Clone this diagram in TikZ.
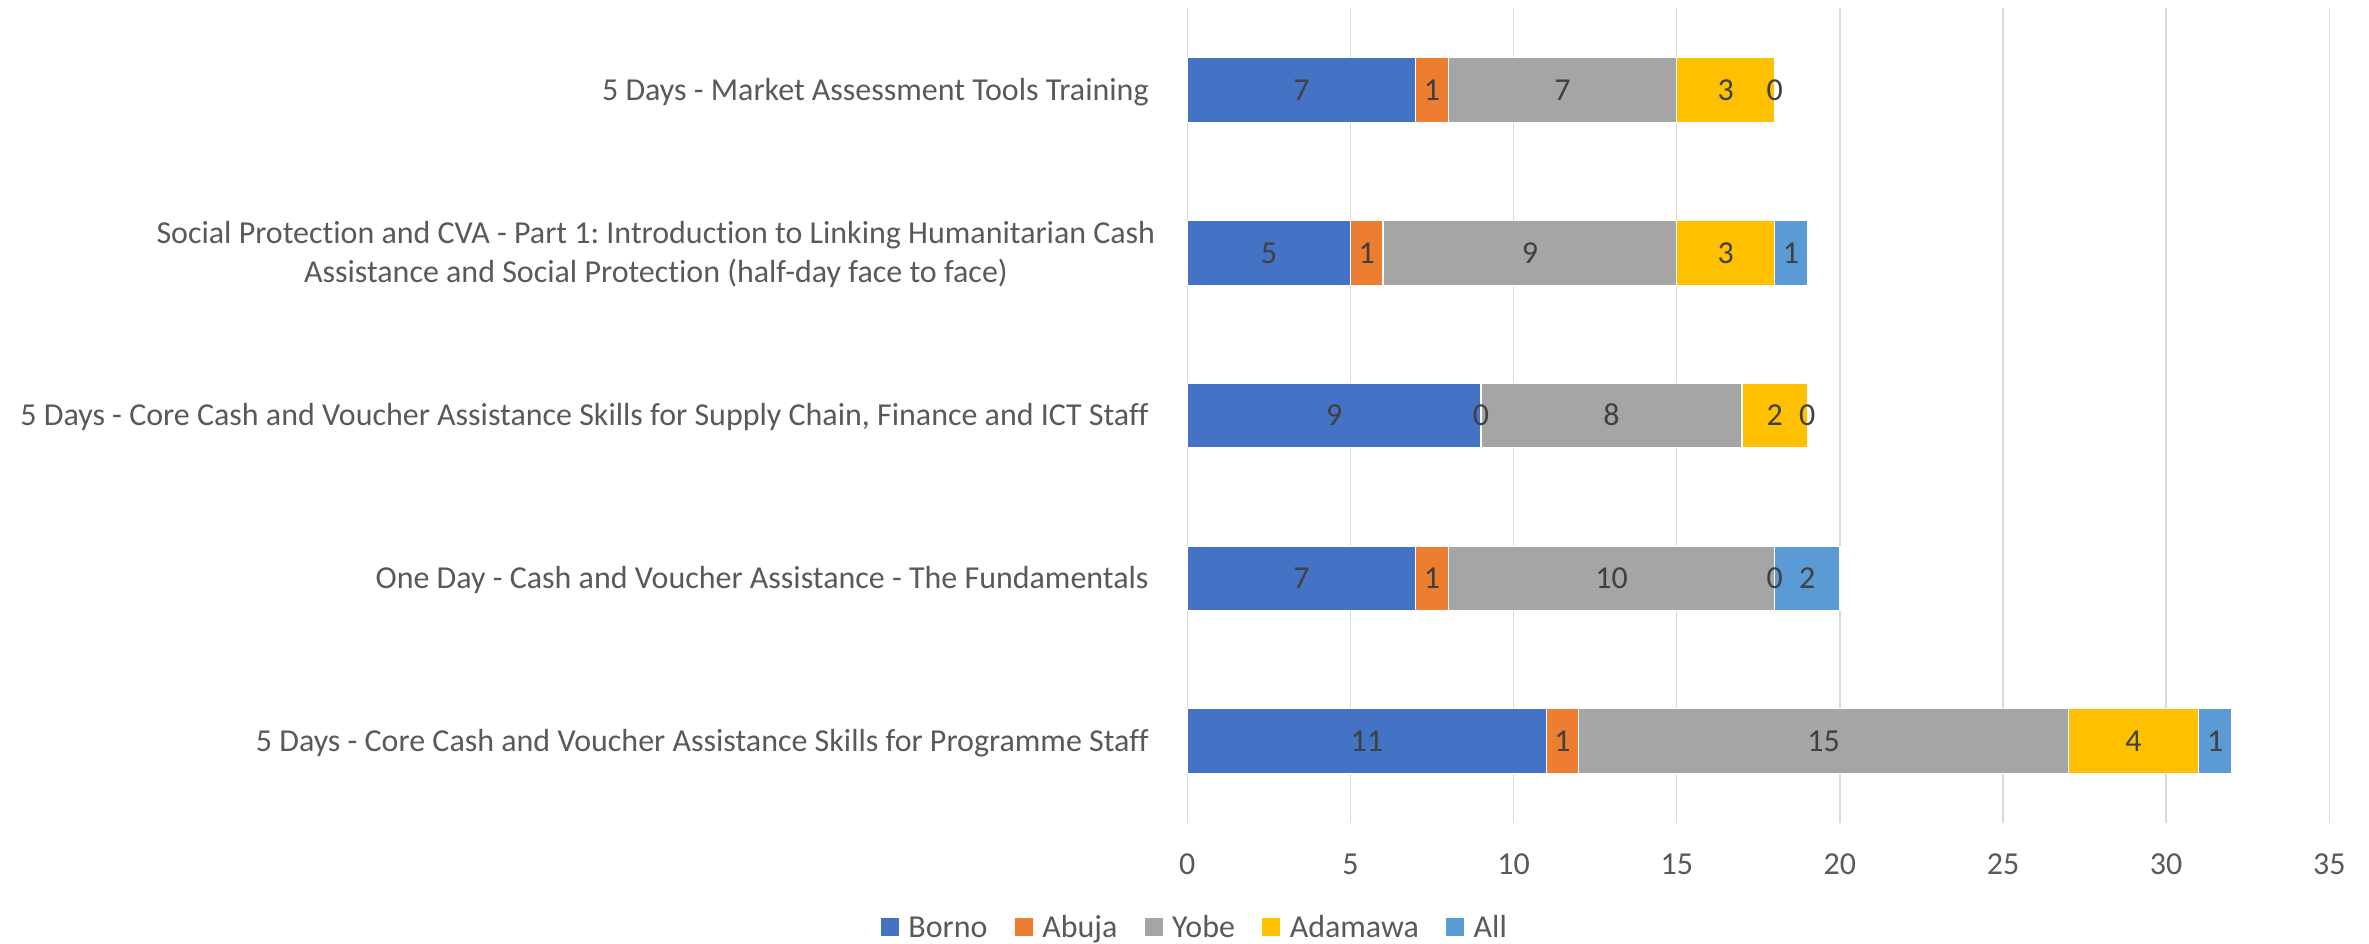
\documentclass[tikz,border=0pt]{standalone}
\usepackage{fontspec}
\setmainfont{Carlito}[Ligatures=NoCommon]
\usepackage{tikz}
\usetikzlibrary{positioning}
\frenchspacing

\definecolor{borno}{HTML}{4472C4}
\definecolor{abuja}{HTML}{ED7D31}
\definecolor{yobe}{HTML}{A5A5A5}
\definecolor{adamawa}{HTML}{FFC000}
\definecolor{allsites}{HTML}{5B9BD5}
\definecolor{labelgray}{HTML}{595959}
\definecolor{valuegray}{HTML}{404040}
\definecolor{gridgray}{HTML}{D9D9D9}
\newcommand{\chartfont}{\fontsize{9.1}{11.1}\selectfont}

\begin{document}
\begin{tikzpicture}[catlabel/.style={anchor=east, inner sep=0, align=center, text=labelgray, font=\chartfont, text height=5.86pt, text depth=0pt},
    valuelabel/.style={inner sep=0, text=valuegray, font=\chartfont, text height=5.8pt, text depth=0pt},
    ticklabel/.style={inner sep=0, text=labelgray, font=\chartfont, text height=5.8pt, text depth=0pt},
    segment/.style={draw=white, line width=0.35pt},
    gridline/.style={draw=gridgray, line width=0.4pt},
    legbox/.style={rectangle, inner sep=0, minimum size=0.18cm},
    legtext/.style={inner sep=0, text=labelgray, font=\chartfont, text height=5.86pt, text depth=0pt}]
    \useasboundingbox (0,0) rectangle (23.69,9.43);

    % categories
    \node[catlabel] (cat1) at (11.493,8.53) {5 Days - Market Assessment Tools Training};
    \node[catlabel, text height=16.96pt] (cat2) at (11.56,6.90) {Social Protection and CVA - Part 1: Introduction to Linking Humanitarian Cash\\Assistance and Social Protection (half-day face to face)};
    \node[catlabel] (cat3) at (11.493,5.275) {5 Days - Core Cash and Voucher Assistance Skills for Supply Chain, Finance and ICT Staff};
    \node[catlabel] (cat4) at (11.493,3.645) {One Day - Cash and Voucher Assistance - The Fundamentals};
    \node[catlabel] (cat5) at (11.493,2.02) {5 Days - Core Cash and Voucher Assistance Skills for Programme Staff};

    \begin{scope}[shift={(11.873,0)}, x=0.3263cm]
        \foreach \t in {0,5,...,35} {
            \draw[gridline] (\t,1.203) -- (\t,9.347);
            \node[ticklabel] (tick\t) at (\t,0.785) {\t};
        }
        % stacked bars: start/end/colour
        \foreach \row/\y/\segs in {1/8.53/{0/7/borno,7/8/abuja,8/15/yobe,15/18/adamawa,18/18/allsites},
                                   2/6.90/{0/5/borno,5/6/abuja,6/15/yobe,15/18/adamawa,18/19/allsites},
                                   3/5.275/{0/9/borno,9/9/abuja,9/17/yobe,17/19/adamawa,19/19/allsites},
                                   4/3.645/{0/7/borno,7/8/abuja,8/18/yobe,18/18/adamawa,18/20/allsites},
                                   5/2.02/{0/11/borno,11/12/abuja,12/27/yobe,27/31/adamawa,31/32/allsites}} {
            \foreach \a/\b/\c in \segs {
                \fill[\c, segment] (\a,\y-0.3225) rectangle (\b,\y+0.3225);
            }
            \foreach \a/\b/\c [count=\i] in \segs {
                \pgfmathtruncatemacro{\v}{\b-\a}
                \node[valuelabel] (val\row-\i) at ({(\a+\b)/2},\y) {\v};
            }
        }
    \end{scope}

    % legend
    \node[legbox, fill=borno] (keyborno) at (8.90,0.16) {};
    \node[legtext, right=0.08cm of keyborno] (txtborno) {Borno};
    \node[legbox, fill=abuja, right=0.26cm of txtborno] (keyabuja) {};
    \node[legtext, right=0.08cm of keyabuja] (txtabuja) {Abuja};
    \node[legbox, fill=yobe, right=0.26cm of txtabuja] (keyyobe) {};
    \node[legtext, right=0.08cm of keyyobe] (txtyobe) {Yobe};
    \node[legbox, fill=adamawa, right=0.26cm of txtyobe] (keyadamawa) {};
    \node[legtext, right=0.08cm of keyadamawa] (txtadamawa) {Adamawa};
    \node[legbox, fill=allsites, right=0.26cm of txtadamawa] (keyall) {};
    \node[legtext, right=0.08cm of keyall] (txtall) {All};
\end{tikzpicture}
\end{document}
